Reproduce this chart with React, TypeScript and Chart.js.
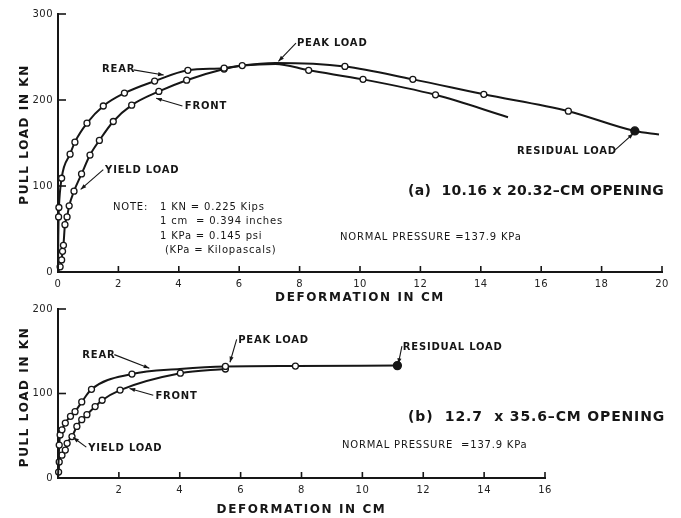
import React, { useEffect, useRef } from "react";
import { Chart, registerables } from "chart.js";

Chart.register(...registerables);

const FONT = '"DejaVu Sans", "Liberation Sans", sans-serif';
const INK = "#161616";

// ---------- Panel (a): 10.16 x 20.32-cm opening ----------
const aRearX = [0, 0.01, 0.02, 0.03, 0.12, 0.4, 0.56, 0.96, 1.5, 2.2, 3.2, 4.3, 5.5, 6.1, 7.2, 8.3, 10.1, 12.5, 14.9];
const aRearY = [0, 40, 64, 75, 109, 137, 151, 173, 193, 208, 222, 234.5, 237, 240, 242, 234.5, 224, 206, 180];
const aRearMeasured = [0, 0, 1, 1, 1, 1, 1, 1, 1, 1, 1, 1, 1, 1, 0, 1, 1, 1, 0];

const aFrontX = [0, 0.07, 0.12, 0.15, 0.18, 0.23, 0.3, 0.37, 0.53, 0.78, 1.06, 1.37, 1.83, 2.44, 3.34, 4.26, 5.5, 6.1, 7.2, 9.5, 11.75, 14.1, 16.9, 19.1, 19.9];
const aFrontY = [0, 6, 14, 24, 31, 55, 64, 77, 94, 114, 136, 153, 175, 194, 210, 223, 236, 240, 243, 239, 224, 206.6, 187, 164, 160];
const aFrontMeasured = [0, 1, 1, 1, 1, 1, 1, 1, 1, 1, 1, 1, 1, 1, 1, 1, 1, 0, 0, 1, 1, 1, 1, 2, 0];

const aXRange = [0, 20];
const aYRange = [0, 300];
const aXStep = 2;
const aYStep = 100;

// ---------- Panel (b): 12.7 x 35.6-cm opening ----------
const bRearX = [0, 0.04, 0.07, 0.13, 0.24, 0.41, 0.56, 0.78, 1.1, 2.43, 4.0, 5.5, 7.8, 11.15];
const bRearY = [0, 39, 51, 57, 65, 73, 78.5, 90, 105, 123, 129, 132, 132.5, 133];
const bRearMeasured = [0, 1, 1, 1, 1, 1, 1, 1, 1, 1, 0, 1, 1, 2];

const bFrontX = [0, 0.02, 0.04, 0.13, 0.24, 0.3, 0.46, 0.62, 0.78, 0.95, 1.22, 1.45, 2.04, 4.02, 5.5];
const bFrontY = [0, 7, 19, 27, 33, 41, 49, 61, 69, 75, 84.5, 92, 104, 124, 129];
const bFrontMeasured = [0, 1, 1, 1, 1, 1, 1, 1, 1, 1, 1, 1, 1, 1, 1];

const bXRange = [0, 16];
const bYRange = [0, 200];
const bXStep = 2;
const bYStep = 100;

const Y_TITLE = "PULL LOAD IN KN";
const X_TITLE = "DEFORMATION IN CM";

type Note = { x: number; y: number; t: string; size?: number; bold?: boolean; ls?: number };
type Leader = { from: [number, number]; to: [number, number] };

const aNotes: Note[] = [
  { x: 1.46, y: 235, t: "REAR" },
  { x: 4.2, y: 193, t: "FRONT" },
  { x: 1.56, y: 118.6, t: "YIELD LOAD" },
  { x: 7.91, y: 266, t: "PEAK LOAD" },
  { x: 15.2, y: 140.7, t: "RESIDUAL LOAD" },
  { x: 1.82, y: 75.6, t: "NOTE:", bold: false },
  { x: 3.38, y: 75.6, t: "1 KN = 0.225 Kips", bold: false },
  { x: 3.38, y: 59.3, t: "1 cm  = 0.394 inches", bold: false },
  { x: 3.38, y: 41.9, t: "1 KPa = 0.145 psi", bold: false },
  { x: 3.54, y: 25.6, t: "(KPa = Kilopascals)", bold: false },
  { x: 11.59, y: 94, t: "(a)  10.16 x 20.32\u2013CM OPENING", size: 14, ls: 0.3 },
  { x: 9.34, y: 40.7, t: "NORMAL PRESSURE =137.9 KPa", bold: false },
];
const aLeaders: Leader[] = [
  { from: [2.5, 235], to: [3.5, 229] },
  { from: [4.12, 193], to: [3.25, 202] },
  { from: [1.5, 119], to: [0.75, 96] },
  { from: [7.88, 266], to: [7.3, 245] },
  { from: [18.45, 142], to: [19.05, 161] },
];

const bNotes: Note[] = [
  { x: 0.8, y: 145.6, t: "REAR" },
  { x: 3.2, y: 97, t: "FRONT" },
  { x: 0.99, y: 35.5, t: "YIELD LOAD" },
  { x: 5.92, y: 163, t: "PEAK LOAD" },
  { x: 11.33, y: 155, t: "RESIDUAL LOAD" },
  { x: 11.5, y: 72.2, t: "(b)  12.7  x 35.6\u2013CM OPENING", size: 14, ls: 0.85 },
  { x: 9.33, y: 38, t: "NORMAL PRESSURE  =137.9 KPa", bold: false },
];
const bLeaders: Leader[] = [
  { from: [1.85, 146], to: [3.0, 130] },
  { from: [3.13, 98], to: [2.35, 106] },
  { from: [0.93, 36.5], to: [0.5, 48] },
  { from: [5.87, 164], to: [5.65, 137] },
  { from: [11.3, 156], to: [11.18, 135] },
];

function series(xs: number[], ys: number[], marks: number[]) {
  return {
    data: xs.map((x, i) => ({ x, y: ys[i] })),
    borderColor: INK,
    borderWidth: 2,
    cubicInterpolationMode: "monotone" as const,
    clip: false as any,
    pointRadius: marks.map((m) => (m === 0 ? 0 : m === 2 ? 4 : 3)),
    pointBackgroundColor: marks.map((m) => (m === 2 ? INK : "#ffffff")),
    pointBorderColor: INK,
    pointBorderWidth: 1.3,
    fill: false,
  };
}

const paperPlugin = {
  id: "paper",
  beforeDraw(chart: any) {
    chart.ctx.letterSpacing = "0.5px";
  },
  afterDraw(chart: any, _args: any, opts: any) {
    const ctx = chart.ctx;
    const xs = chart.scales.x;
    const ys = chart.scales.y;
    const area = chart.chartArea;
    ctx.save();
    ctx.strokeStyle = INK;
    ctx.fillStyle = INK;
    ctx.lineWidth = 1.6;
    // inside tick marks
    xs.ticks.forEach((tk: any) => {
      const px = xs.getPixelForValue(tk.value);
      if (tk.value === 0) return;
      ctx.beginPath();
      ctx.moveTo(px, area.bottom);
      ctx.lineTo(px, area.bottom - 6);
      ctx.stroke();
    });
    ys.ticks.forEach((tk: any) => {
      const py = ys.getPixelForValue(tk.value);
      if (tk.value === 0) return;
      ctx.beginPath();
      ctx.moveTo(area.left, py);
      ctx.lineTo(area.left + 8, py);
      ctx.stroke();
    });
    // leader lines with arrowheads
    ctx.lineWidth = 1.1;
    (opts.leaders || []).forEach((l: any) => {
      const x0 = xs.getPixelForValue(l.from[0]);
      const y0 = ys.getPixelForValue(l.from[1]);
      const x1 = xs.getPixelForValue(l.to[0]);
      const y1 = ys.getPixelForValue(l.to[1]);
      ctx.beginPath();
      ctx.moveTo(x0, y0);
      ctx.lineTo(x1, y1);
      ctx.stroke();
      const a = Math.atan2(y1 - y0, x1 - x0);
      const L = 6;
      ctx.beginPath();
      ctx.moveTo(x1, y1);
      ctx.lineTo(x1 - L * Math.cos(a - 0.35), y1 - L * Math.sin(a - 0.35));
      ctx.lineTo(x1 - L * Math.cos(a + 0.35), y1 - L * Math.sin(a + 0.35));
      ctx.closePath();
      ctx.fill();
    });
    // annotation texts
    ctx.textBaseline = "middle";
    ctx.textAlign = "left";
    (opts.notes || []).forEach((n: any) => {
      const size = n.size || 10;
      const bold = n.bold === false ? "" : "bold ";
      ctx.font = `${bold}${size}px ${FONT}`;
      ctx.letterSpacing = `${n.ls ?? 0.8}px`;
      ctx.fillText(n.t, xs.getPixelForValue(n.x), ys.getPixelForValue(n.y));
    });
    // axis titles
    ctx.font = `bold 12px ${FONT}`;
    ctx.letterSpacing = "1.6px";
    ctx.textAlign = "center";
    ctx.fillText(opts.xTitle, (area.left + area.right) / 2, area.bottom + opts.xTitleOffset);
    ctx.save();
    ctx.translate(25, ys.getPixelForValue(opts.yTitleAt));
    ctx.rotate(-Math.PI / 2);
    ctx.fillText(opts.yTitle, 0, 0);
    ctx.restore();
    ctx.restore();
  },
};

function makeConfig(p: any): any {
  return {
    type: "line",
    data: {
      datasets: [series(p.rx, p.ry, p.rm), series(p.fx, p.fy, p.fm)],
    },
    plugins: [paperPlugin],
    options: {
      animation: false,
      responsive: false,
      devicePixelRatio: 1,
      events: [],
      layout: { padding: { left: 0, right: p.padRight, top: p.padTop, bottom: 0 } },
      plugins: {
        legend: { display: false },
        tooltip: { enabled: false },
        paper: {
          notes: p.notes,
          leaders: p.leaders,
          xTitle: X_TITLE,
          yTitle: Y_TITLE,
          xTitleOffset: p.xTitleOffset,
          yTitleAt: p.yTitleAt,
        },
      },
      scales: {
        x: {
          type: "linear",
          min: p.xRange[0],
          max: p.xRange[1],
          afterFit: (s: any) => {
            s.height = p.xAxisH;
          },
          grid: { display: false, drawTicks: false },
          border: { display: true, color: INK, width: 2 },
          ticks: {
            stepSize: p.xStep,
            padding: 6,
            autoSkip: false,
            maxRotation: 0,
            color: "#222",
            font: { family: FONT, size: 10 },
            callback: (v: number) => (v === 0 && p.hideX0 ? "" : String(v)),
          },
        },
        y: {
          type: "linear",
          min: p.yRange[0],
          max: p.yRange[1],
          afterFit: (s: any) => {
            s.width = 58;
          },
          grid: { display: false, drawTicks: false },
          border: { display: true, color: INK, width: 2 },
          ticks: {
            stepSize: p.yStep,
            padding: 5,
            color: "#222",
            font: { family: FONT, size: 10 },
          },
        },
      },
    },
  };
}

function Panel({ params, top, height }: { params: any; top: number; height: number }) {
  const ref = useRef<HTMLCanvasElement>(null);
  useEffect(() => {
    const chart = new Chart(ref.current as HTMLCanvasElement, makeConfig(params));
    return () => chart.destroy();
  }, []);
  return (
    <canvas
      ref={ref}
      width={681}
      height={height}
      style={{ position: "absolute", left: 0, top, width: 681, height }}
    />
  );
}

const panelA = {
  rx: aRearX, ry: aRearY, rm: aRearMeasured,
  fx: aFrontX, fy: aFrontY, fm: aFrontMeasured,
  xRange: aXRange, yRange: aYRange, xStep: aXStep, yStep: aYStep,
  notes: aNotes, leaders: aLeaders,
  padRight: 19, padTop: 14, xAxisH: 38, xTitleOffset: 26, yTitleAt: 160, hideX0: false,
};

const panelB = {
  rx: bRearX, ry: bRearY, rm: bRearMeasured,
  fx: bFrontX, fy: bFrontY, fm: bFrontMeasured,
  xRange: bXRange, yRange: bYRange, xStep: bXStep, yStep: bYStep,
  notes: bNotes, leaders: bLeaders,
  padRight: 136, padTop: 19, xAxisH: 40, xTitleOffset: 32, yTitleAt: 96, hideX0: true,
};

export default function App() {
  return (
    <div style={{ position: "absolute", left: 0, top: 0, width: 681, height: 518, background: "#fff", overflow: "hidden" }}>
      <Panel params={panelA} top={0} height={310} />
      <Panel params={panelB} top={290} height={228} />
    </div>
  );
}
